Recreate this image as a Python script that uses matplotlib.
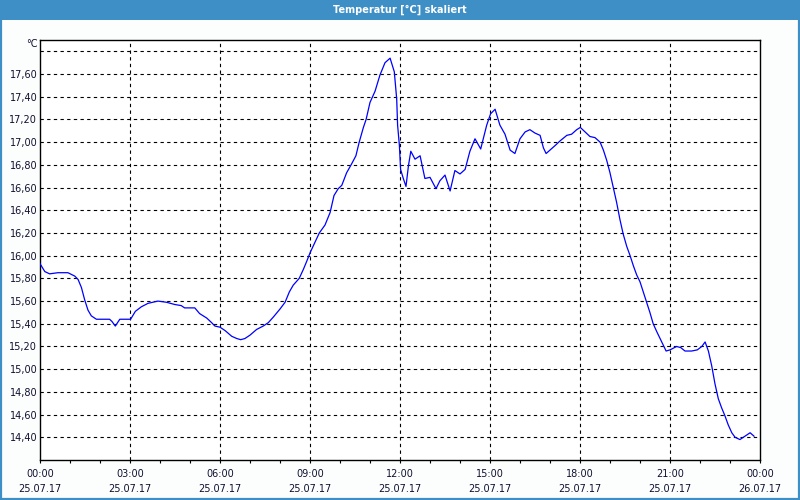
import matplotlib
matplotlib.use("Agg")
import matplotlib.pyplot as plt
from matplotlib.patches import Rectangle

# time in hours since 25.07.17 00:00, temperature in °C
hours = [0.00, 0.16, 0.32, 0.60, 0.93, 1.16, 1.27, 1.38, 1.49, 1.60, 1.71, 1.88,
         2.10, 2.32, 2.40, 2.51, 2.66, 2.84, 3.02, 3.18, 3.38, 3.60, 3.93, 4.21,
         4.49, 4.71, 4.82, 5.16, 5.32, 5.56, 5.72, 5.83, 6.00, 6.17, 6.39, 6.56,
         6.69, 6.83, 7.00, 7.22, 7.44, 7.61, 7.78, 8.00, 8.17, 8.31, 8.44, 8.64,
         8.78, 8.89, 9.01, 9.17, 9.31, 9.50, 9.67, 9.80, 9.94, 10.06, 10.22, 10.39,
         10.53, 10.64, 10.78, 10.87, 11.00, 11.17, 11.33, 11.50, 11.67, 11.81, 11.89, 11.92,
         11.98, 12.02, 12.11, 12.20, 12.28, 12.36, 12.50, 12.67, 12.83, 13.00, 13.20, 13.33,
         13.50, 13.67, 13.83, 14.00, 14.17, 14.33, 14.50, 14.69, 14.89, 15.02, 15.17, 15.33,
         15.50, 15.67, 15.83, 16.00, 16.17, 16.33, 16.50, 16.67, 16.78, 16.87, 17.00, 17.17,
         17.33, 17.56, 17.72, 17.89, 18.01, 18.17, 18.33, 18.50, 18.67, 18.78, 18.89, 19.00,
         19.11, 19.22, 19.33, 19.44, 19.56, 19.67, 19.78, 19.89, 20.00, 20.11, 20.22, 20.33,
         20.44, 20.56, 20.67, 20.78, 20.87, 21.00, 21.22, 21.36, 21.50, 21.72, 21.91, 22.06,
         22.17, 22.28, 22.39, 22.50, 22.61, 22.72, 22.83, 22.94, 23.06, 23.17, 23.33, 23.50,
         23.67, 23.80]
temps = [15.93, 15.86, 15.84, 15.85, 15.85, 15.82, 15.79, 15.72, 15.61, 15.52, 15.47, 15.44,
         15.44, 15.44, 15.42, 15.38, 15.44, 15.44, 15.44, 15.51, 15.55, 15.58, 15.60, 15.59,
         15.57, 15.56, 15.54, 15.54, 15.49, 15.45, 15.41, 15.38, 15.37, 15.34, 15.29, 15.27,
         15.26, 15.27, 15.30, 15.35, 15.38, 15.41, 15.46, 15.53, 15.59, 15.68, 15.74, 15.80,
         15.88, 15.95, 16.03, 16.12, 16.20, 16.27, 16.38, 16.53, 16.59, 16.62, 16.73, 16.81,
         16.88, 17.00, 17.13, 17.20, 17.35, 17.45, 17.59, 17.70, 17.74, 17.62, 17.38, 17.15,
         16.97, 16.76, 16.68, 16.61, 16.79, 16.92, 16.85, 16.88, 16.68, 16.69, 16.59, 16.66,
         16.71, 16.57, 16.75, 16.72, 16.76, 16.92, 17.03, 16.94, 17.15, 17.25, 17.29, 17.15,
         17.07, 16.93, 16.90, 17.03, 17.09, 17.11, 17.08, 17.06, 16.95, 16.90, 16.93, 16.97,
         17.01, 17.06, 17.07, 17.11, 17.13, 17.09, 17.05, 17.04, 17.00, 16.93, 16.84, 16.73,
         16.60, 16.47, 16.32, 16.19, 16.08, 16.00, 15.91, 15.83, 15.77, 15.68, 15.59, 15.50,
         15.40, 15.33, 15.27, 15.21, 15.16, 15.17, 15.20, 15.19, 15.16, 15.16, 15.17, 15.20,
         15.24, 15.16, 15.03, 14.87, 14.74, 14.66, 14.59, 14.51, 14.44, 14.40, 14.38, 14.41,
         14.44, 14.41]

tick_hours = [0, 3, 6, 9, 12, 15, 18, 21, 24]
tick_labels = ["00:00\n25.07.17", "03:00\n25.07.17", "06:00\n25.07.17",
               "09:00\n25.07.17", "12:00\n25.07.17", "15:00\n25.07.17",
               "18:00\n25.07.17", "21:00\n25.07.17", "00:00\n26.07.17"]
y_ticks = [14.4, 14.6, 14.8, 15.0, 15.2, 15.4, 15.6, 15.8, 16.0,
           16.2, 16.4, 16.6, 16.8, 17.0, 17.2, 17.4, 17.6]
y_grid = y_ticks + [17.8]

bar_blue = "#3d8fc6"
text_col = "#101030"

plt.rcParams["font.family"] = ["DejaVu Sans"]

fig = plt.figure(figsize=(8, 5), dpi=100, facecolor="#fcfefe")

# title bar and window border
fig.patches.append(Rectangle((0, 1 - 20 / 500), 1, 20 / 500, transform=fig.transFigure,
                             facecolor=bar_blue, edgecolor="none", zorder=0))
fig.patches.append(Rectangle((0.001, 0.002), 0.998, 0.996, transform=fig.transFigure,
                             facecolor="none", edgecolor=bar_blue, linewidth=1.6, zorder=0))
fig.text(0.5, 1 - 10 / 500, "Temperatur [°C] skaliert", color="white", fontsize=7,
         fontweight="bold", ha="center", va="center")

ax = fig.add_axes([40 / 800, 40 / 500, 720 / 800, 420 / 500])
ax.set_facecolor("white")

# grid
for g in y_grid:
    ax.axhline(g, color="black", linewidth=0.8, dashes=(3, 3), zorder=1)
for h in tick_hours[1:-1]:
    ax.axvline(h, color="black", linewidth=0.8, dashes=(3, 3), zorder=1)

ax.plot(hours, temps, color="#0000ff", linewidth=0.9, zorder=3)

ax.set_xlim(0, 24)
ax.set_ylim(14.2, 17.9)

ax.set_xticks(tick_hours)
ax.set_xticklabels(tick_labels, fontsize=7, color=text_col, linespacing=1.6)
ax.set_xticks(range(0, 25), minor=True)
ax.tick_params(axis="x", which="both", direction="out", length=2.5, width=0.8,
               color="black", pad=4)

ax.set_yticks(y_ticks)
ax.set_yticklabels([("%.2f" % v).replace(".", ",") for v in y_ticks], fontsize=7,
                   color=text_col)
ax.tick_params(axis="y", length=0, pad=2)
ax.text(-0.003, 0.99, "°C", transform=ax.transAxes, ha="right", va="center",
        fontsize=7, color=text_col)

for s in ax.spines.values():
    s.set_linewidth(1.0)
    s.set_color("black")

fig.savefig("out.png", dpi=100, facecolor=fig.get_facecolor())
